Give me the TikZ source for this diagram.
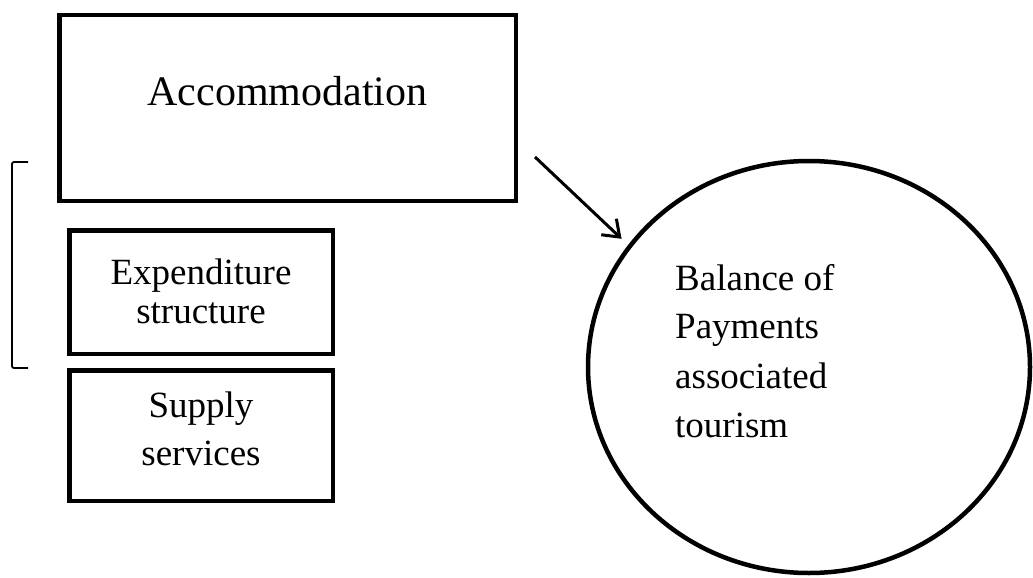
\documentclass[tikz,border=0pt]{standalone}
\usepackage{fontspec}
\setmainfont{Liberation Serif}
\usetikzlibrary{shapes.geometric,arrows.meta}
\begin{document}
\begin{tikzpicture}[x=1pt,y=-1pt,
  boxframe/.style={draw,line width=4.5pt,inner sep=0pt,rectangle},
  bigtext/.style={inner sep=0pt,font=\fontsize{42}{48}\selectfont},
  txt/.style={inner sep=0pt,font=\fontsize{37}{44}\selectfont},
  flow/.style={line width=3pt,-{Straight Barb[length=15pt,width=22pt,line width=3pt]}}]
\useasboundingbox (0,0) rectangle (1033,578);

% boxes on the left
\node[boxframe,minimum width=456.5pt,minimum height=185.5pt] (acc) at (287.5,108) {};
\node[boxframe,minimum width=263.5pt,minimum height=123.5pt] (exp) at (201,292) {};
\node[boxframe,minimum width=263.5pt,minimum height=130.5pt] (sup) at (201,435.5) {};

\node[bigtext,anchor=base] (acct) at (287.5,105) {Accommodation};
\node[txt,anchor=base] (exp1) at (201,284) {Expenditure};
\node[txt,anchor=base] (exp2) at (201,323) {structure};
\node[txt,anchor=base] (sup1) at (201,417) {Supply};
\node[txt,anchor=base] (sup2) at (201,465) {services};

% bracket grouping the upper boxes
\draw[line width=1.8pt,rounded corners=2pt] (28,162) -- (12,162) -- (12,368) -- (28,368);

% balance of payments ellipse
\node[draw,ellipse,line width=4.5pt,inner sep=0pt,minimum width=442pt,minimum height=412pt] (bop) at (809,367) {};
\node[txt,anchor=base west] (bop1) at (675,290) {Balance of};
\node[txt,anchor=base west] (bop2) at (675,338) {Payments};
\node[txt,anchor=base west] (bop3) at (675,388) {associated};
\node[txt,anchor=base west] (bop4) at (675,437) {tourism};

% connector
\coordinate (astart) at (535,157);
\draw[flow,shorten >=9pt] (astart) -- (bop.146);
\end{tikzpicture}
\end{document}
